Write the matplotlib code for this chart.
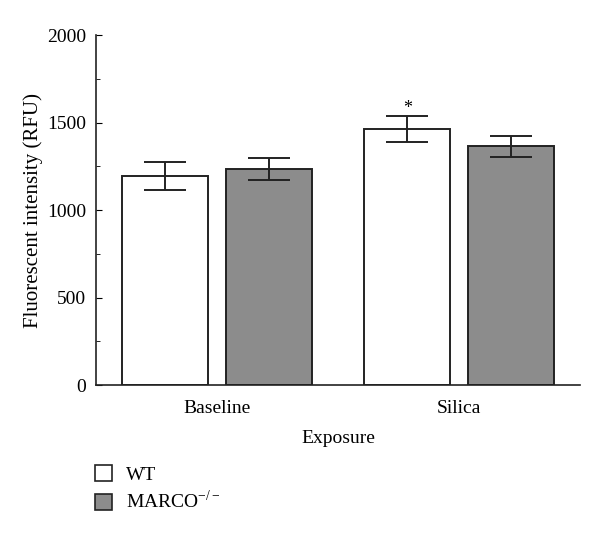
import numpy as np
import matplotlib
matplotlib.use('Agg')
import matplotlib.pyplot as plt
from matplotlib.patches import Patch

plt.rcParams['font.family'] = ['Liberation Serif', 'DejaVu Serif']
plt.rcParams['mathtext.fontset'] = 'custom'
plt.rcParams['mathtext.rm'] = 'Liberation Serif'

exposure = ['Baseline', 'Silica']
wt_mean = [1194, 1463]
wt_err = [78, 76]
marco_mean = [1234, 1364]
marco_err = [61, 62]

fig = plt.figure(figsize=(6, 5.4), dpi=100)
ax = fig.add_axes([0.16, 0.287, 0.807, 0.648])

x = np.arange(len(exposure))
w = 0.355
off = 0.214
ec = '#222222'

ax.bar(x - off, wt_mean, w, color='white', edgecolor=ec, linewidth=1.4, label='WT',
       yerr=wt_err, error_kw=dict(ecolor=ec, elinewidth=1.4, capsize=15, capthick=1.4))
ax.bar(x + off, marco_mean, w, color='#8c8c8c', edgecolor=ec, linewidth=1.4,
       label='MARCO$^{-/-}$',
       yerr=marco_err, error_kw=dict(ecolor=ec, elinewidth=1.4, capsize=15, capthick=1.4))

# significance mark on WT silica
ax.text(x[1] - off, wt_mean[1] + wt_err[1] + 44, '*', ha='center', va='center', fontsize=13)

ax.set_xlim(-0.5, 1.5)
ax.set_ylim(0, 2000)
ax.set_xticks(x)
ax.set_xticklabels(exposure, fontsize=14)
ax.tick_params(axis='x', length=0, pad=11)
ax.set_yticks([0, 500, 1000, 1500, 2000])
ax.set_yticks(np.arange(0, 2001, 250), minor=True)
ax.tick_params(axis='y', direction='in', length=4, labelsize=14, pad=7)
ax.tick_params(axis='y', which='minor', direction='in', length=3)
ax.set_xlabel('Exposure', fontsize=14, labelpad=9)
ax.set_ylabel('Fluorescent intensity (RFU)', fontsize=15, labelpad=3)

ax.spines['right'].set_visible(False)
ax.spines['top'].set_visible(False)
for s in ['left', 'bottom']:
    ax.spines[s].set_color(ec)
    ax.spines[s].set_linewidth(1.2)

handles = [Patch(facecolor='white', edgecolor=ec, linewidth=1.2, label='WT'),
           Patch(facecolor='#8c8c8c', edgecolor=ec, linewidth=1.2, label='MARCO$^{-/-}$')]
fig.legend(handles=handles, loc='upper left', bbox_to_anchor=(0.145, 0.153),
           frameon=False, fontsize=14, handlelength=0.9, handleheight=0.9,
           handletextpad=0.7, labelspacing=0.3, borderaxespad=0)

fig.savefig('out.png', dpi=100)
